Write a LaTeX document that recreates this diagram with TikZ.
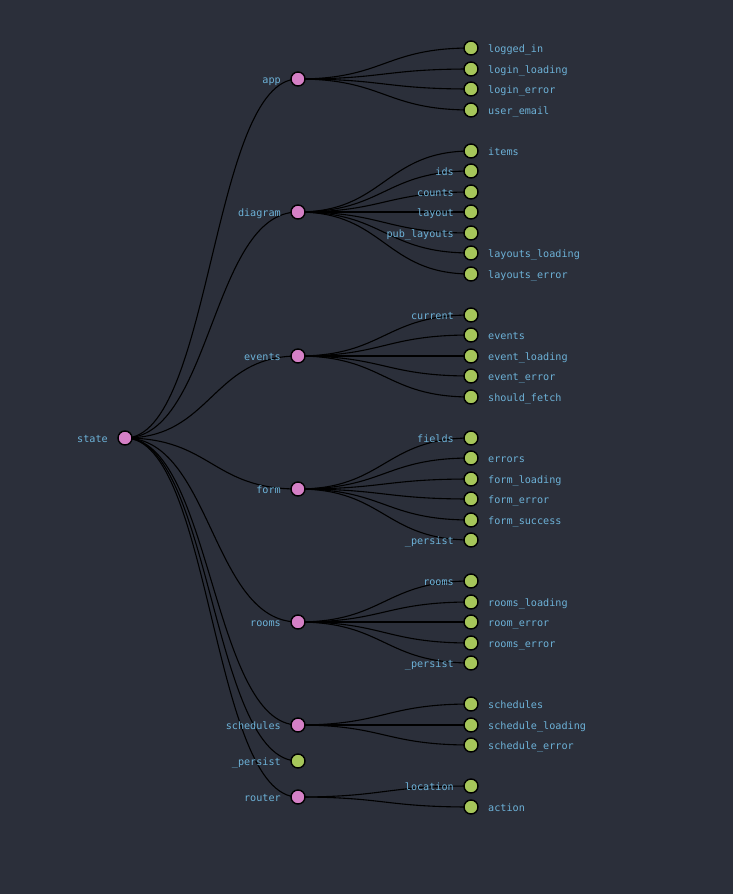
\documentclass[tikz,border=0pt]{standalone}
\usepackage{fontspec}
\newfontfamily\labfont{DejaVu Sans Mono}
\usetikzlibrary{calc}
\definecolor{bg}{HTML}{2B2F3A}
\definecolor{pinkn}{HTML}{D580C6}
\definecolor{greenn}{HTML}{A6C65A}
\definecolor{labc}{HTML}{6DB2D8}
\tikzset{
  nd/.style={circle,draw=black,line width=1.4pt,minimum size=14pt,inner sep=0pt},
  pn/.style={nd,fill=pinkn},
  gn/.style={nd,fill=greenn},
  lab/.style={text=labc,inner sep=0pt,text height=8pt,text depth=0pt,font=\labfont\fontsize{10.15}{12}\selectfont},
  L/.style={label={[lab,label distance=9.3pt]left:#1}},
  R/.style={label={[lab,label distance=9.3pt]right:#1}},
  lnk/.style={draw=black,line width=1.1pt}
}
\newcommand\lk[2]{\draw[lnk] let \p1=(#1.center), \p2=(#2.center) in (\p1) .. controls ({(\x1+\x2)/2},\y1) and ({(\x1+\x2)/2},\y2) .. (\p2);}
\begin{document}
\begin{tikzpicture}[x=1pt,y=-1pt]
\fill[bg] (0,0) rectangle (733,894);
\useasboundingbox (0,0) rectangle (733,894);
% coordinates for nodes
\coordinate (state) at (125,438);
\foreach \n/\y in {app/79,diagram/212,events/356,form/489,rooms/622,schedules/725,stpersist/761,router/797}
  \coordinate (\n) at (298,\y);
\foreach \n/\y in {loggedin/48,loginloading/69,loginerror/89,useremail/110,
  items/151,ids/171,counts/192,layout/212,publayouts/233,layoutsloading/253,layoutserror/274,
  current/315,evevents/335,eventloading/356,eventerror/376,shouldfetch/397,
  fields/438,errors/458,formloading/479,formerror/499,formsuccess/520,formpersist/540,
  rmrooms/581,roomsloading/602,roomerror/622,roomserror/643,rmpersist/663,
  schschedules/704,scheduleloading/725,scheduleerror/745,
  location/786,action/807}
  \coordinate (\n) at (471,\y);
% links
\foreach \c in {app,diagram,events,form,rooms,schedules,stpersist,router} {\lk{state}{\c}}
\foreach \c in {loggedin,loginloading,loginerror,useremail} {\lk{app}{\c}}
\foreach \c in {items,ids,counts,layout,publayouts,layoutsloading,layoutserror} {\lk{diagram}{\c}}
\foreach \c in {current,evevents,eventloading,eventerror,shouldfetch} {\lk{events}{\c}}
\foreach \c in {fields,errors,formloading,formerror,formsuccess,formpersist} {\lk{form}{\c}}
\foreach \c in {rmrooms,roomsloading,roomerror,roomserror,rmpersist} {\lk{rooms}{\c}}
\foreach \c in {schschedules,scheduleloading,scheduleerror} {\lk{schedules}{\c}}
\foreach \c in {location,action} {\lk{router}{\c}}
% nodes
\node[pn,L=state] (nstate) at (state) {};
\node[pn,L=app] (napp) at (app) {};
\node[pn,L=diagram] (ndiagram) at (diagram) {};
\node[pn,L=events] (nevents) at (events) {};
\node[pn,L=form] (nform) at (form) {};
\node[pn,L=rooms] (nrooms) at (rooms) {};
\node[pn,L=schedules] (nschedules) at (schedules) {};
\node[gn,L=\_persist] (nstpersist) at (stpersist) {};
\node[pn,L=router] (nrouter) at (router) {};
\node[gn,R=logged\_in] at (loggedin) {};
\node[gn,R=login\_loading] at (loginloading) {};
\node[gn,R=login\_error] at (loginerror) {};
\node[gn,R=user\_email] at (useremail) {};
\node[gn,R=items] at (items) {};
\node[gn,L=ids] at (ids) {};
\node[gn,L=counts] at (counts) {};
\node[gn,L=layout] at (layout) {};
\node[gn,L=pub\_layouts] at (publayouts) {};
\node[gn,R=layouts\_loading] at (layoutsloading) {};
\node[gn,R=layouts\_error] at (layoutserror) {};
\node[gn,L=current] at (current) {};
\node[gn,R=events] at (evevents) {};
\node[gn,R=event\_loading] at (eventloading) {};
\node[gn,R=event\_error] at (eventerror) {};
\node[gn,R=should\_fetch] at (shouldfetch) {};
\node[gn,L=fields] at (fields) {};
\node[gn,R=errors] at (errors) {};
\node[gn,R=form\_loading] at (formloading) {};
\node[gn,R=form\_error] at (formerror) {};
\node[gn,R=form\_success] at (formsuccess) {};
\node[gn,L=\_persist] at (formpersist) {};
\node[gn,L=rooms] at (rmrooms) {};
\node[gn,R=rooms\_loading] at (roomsloading) {};
\node[gn,R=room\_error] at (roomerror) {};
\node[gn,R=rooms\_error] at (roomserror) {};
\node[gn,L=\_persist] at (rmpersist) {};
\node[gn,R=schedules] at (schschedules) {};
\node[gn,R=schedule\_loading] at (scheduleloading) {};
\node[gn,R=schedule\_error] at (scheduleerror) {};
\node[gn,L=location] at (location) {};
\node[gn,R=action] at (action) {};
\end{tikzpicture}
\end{document}
